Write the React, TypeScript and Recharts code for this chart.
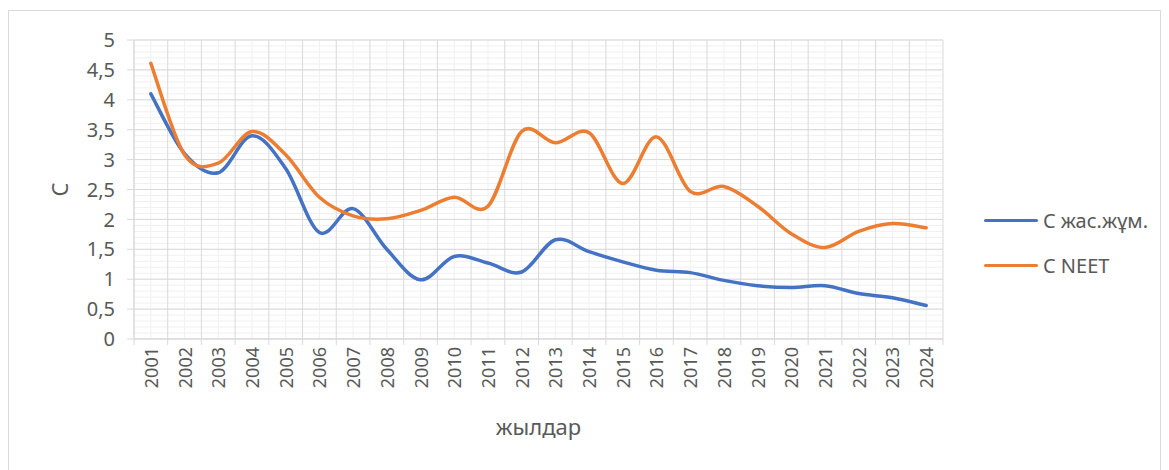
import { CartesianGrid, Line, LineChart, XAxis, YAxis } from 'recharts'

const years = [
  '2001', '2002', '2003', '2004', '2005', '2006', '2007', '2008', '2009', '2010', '2011', '2012',
  '2013', '2014', '2015', '2016', '2017', '2018', '2019', '2020', '2021', '2022', '2023', '2024',
]
const youthValues = [
  4.1, 3.1, 2.78, 3.4, 2.85, 1.78, 2.18, 1.5, 0.99, 1.38, 1.27, 1.12,
  1.66, 1.46, 1.29, 1.15, 1.11, 0.98, 0.89, 0.86, 0.89, 0.76, 0.69, 0.56,
]
const neetValues = [
  4.61, 3.08, 2.94, 3.47, 3.08, 2.37, 2.06, 2.01, 2.15, 2.37, 2.22, 3.47,
  3.28, 3.45, 2.6, 3.38, 2.47, 2.55, 2.22, 1.76, 1.53, 1.8, 1.93, 1.86,
]
const yTicks = [0, 0.5, 1, 1.5, 2, 2.5, 3, 3.5, 4, 4.5, 5]

const series = [
  { key: 'youth', name: 'C жас.жұм.', color: '#4472C4' },
  { key: 'neet', name: 'C NEET', color: '#ED7D31' },
]

const TEXT = '#595959'
const MAJOR = '#d9d9d9'
const MINOR = '#f0f0f0'

const data = years.map((year, i) => ({ pos: i + 1, year, youth: youthValues[i], neet: neetValues[i] }))
const centers = data.map((d) => d.pos)
const edges = [0.5, ...centers.map((p) => p + 0.5)]
const xTicks = [...edges, ...centers].sort((a, b) => a - b)
const minorY = Array.from({ length: 51 }, (_, i) => i / 10)

// Excel-like smoothed line (uniform Catmull-Rom as cubic bezier)
function excelCurve(context: any) {
  let pts: number[][] = []
  return {
    areaStart() {},
    areaEnd() {},
    lineStart() {
      pts = []
    },
    point(x: number, y: number) {
      pts.push([+x, +y])
    },
    lineEnd() {
      const n = pts.length
      if (!n) return
      context.moveTo(pts[0][0], pts[0][1])
      for (let i = 0; i < n - 1; i++) {
        const p0 = pts[i - 1] ?? pts[i]
        const p1 = pts[i]
        const p2 = pts[i + 1]
        const p3 = pts[i + 2] ?? p2
        context.bezierCurveTo(
          p1[0] + (p2[0] - p0[0]) / 6,
          p1[1] + (p2[1] - p0[1]) / 6,
          p2[0] - (p3[0] - p1[0]) / 6,
          p2[1] - (p3[1] - p1[1]) / 6,
          p2[0],
          p2[1],
        )
      }
    },
  }
}

function YearTick({ x, y, payload }: any) {
  const v = payload.value
  if (!Number.isInteger(v)) {
    return <line x1={x} x2={x} y1={y - 6} y2={y} stroke={MAJOR} />
  }
  const ty = y + 2
  return (
    <text
      x={x}
      y={ty}
      transform={`rotate(-90 ${x} ${ty})`}
      textAnchor="end"
      dominantBaseline="central"
      fill={TEXT}
      fontSize={18}
    >
      {years[v - 1]}
    </text>
  )
}

export default function App() {
  return (
    <div style={{ position: 'absolute', left: 0, top: 0, width: 1169, height: 470, overflow: 'hidden', fontFamily: '"Noto Sans", sans-serif', background: '#fff' }}>
      <div style={{ position: 'absolute', left: 8, top: 10, width: 1153, height: 500, border: `1px solid ${MAJOR}`, boxSizing: 'border-box' }} />
      <div style={{ position: 'absolute', left: 0, top: 0 }}>
        <LineChart width={1169} height={470} data={data} margin={{ top: 40, right: 226, bottom: 0, left: 0 }}>
          <CartesianGrid xAxisId="years" yAxisId="main" horizontalValues={minorY} verticalValues={centers} stroke={MINOR} />
          <CartesianGrid xAxisId="years" yAxisId="main" horizontalValues={yTicks} verticalValues={edges} stroke={MAJOR} />
          <XAxis
            xAxisId="years"
            type="number"
            dataKey="pos"
            domain={[0.5, 24.5]}
            ticks={xTicks}
            interval={0}
            tickLine={false}
            tickSize={6}
            tickMargin={0}
            axisLine={{ stroke: MAJOR }}
            height={131}
            tick={<YearTick />}
            label={{ value: 'жылдар', position: 'insideBottom', offset: 35, fill: TEXT, fontSize: 22 }}
          />
          <YAxis
            yAxisId="main"
            domain={[0, 5]}
            ticks={yTicks}
            interval={0}
            width={134}
            tickSize={7}
            tickMargin={12}
            tickLine={{ stroke: MAJOR }}
            axisLine={{ stroke: MAJOR }}
            tick={{ fill: TEXT, fontSize: 20 }}
            tickFormatter={(v: number) => String(v).replace('.', ',')}
            label={{ value: 'C', angle: -90, position: 'insideLeft', offset: 60, fill: TEXT, fontSize: 22, textAnchor: 'middle' }}
          />
          {series.map((s) => (
            <Line
              key={s.key}
              xAxisId="years"
              yAxisId="main"
              dataKey={s.key}
              name={s.name}
              stroke={s.color}
              strokeWidth={3.5}
              strokeLinecap="round"
              dot={false}
              activeDot={false}
              type={excelCurve as any}
              isAnimationActive={false}
            />
          ))}
        </LineChart>
      </div>
      <div style={{ position: 'absolute', left: 984, top: 198 }}>
        {series.map((s) => (
          <div key={s.key} style={{ display: 'flex', alignItems: 'center', height: 45 }}>
            <div style={{ width: 54, height: 3.5, background: s.color, borderRadius: 2, marginRight: 5 }} />
            <span style={{ color: TEXT, fontSize: 20, whiteSpace: 'nowrap' }}>{s.name}</span>
          </div>
        ))}
      </div>
    </div>
  )
}
